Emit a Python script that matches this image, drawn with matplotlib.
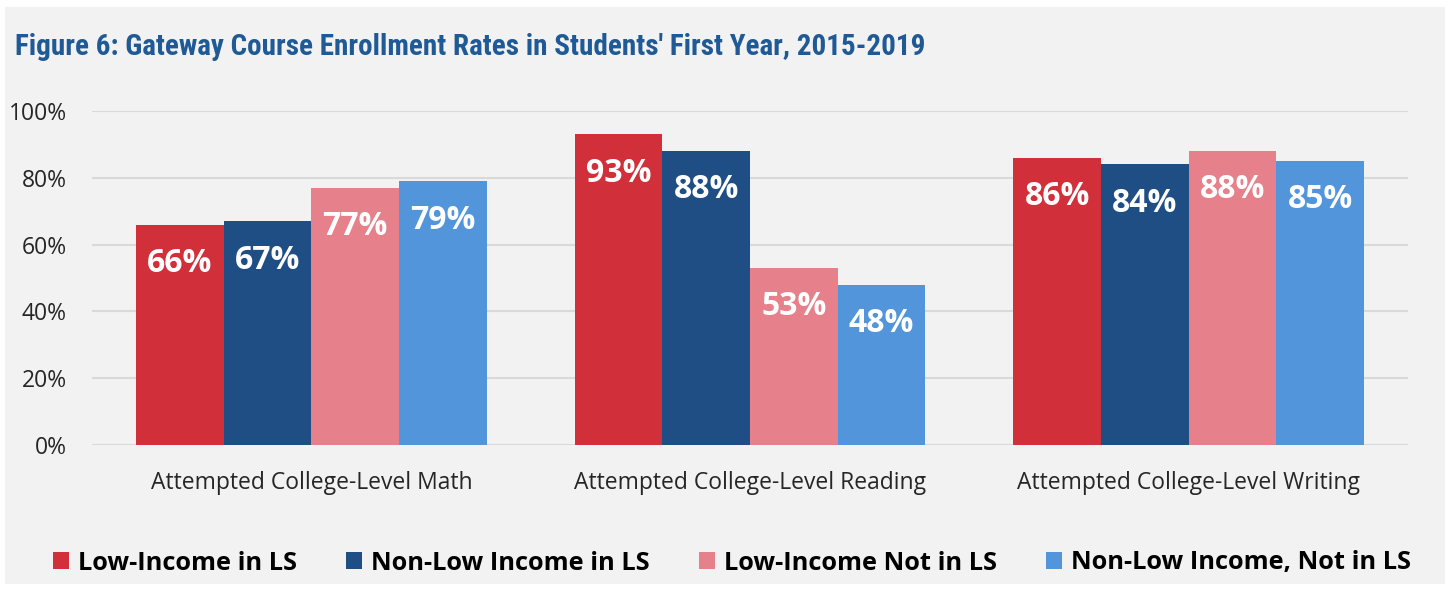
import matplotlib.pyplot as plt
from matplotlib.patches import Rectangle, Patch
from matplotlib import font_manager
import numpy as np

categories = ["Attempted College-Level Math",
              "Attempted College-Level Reading",
              "Attempted College-Level Writing"]
series = ["Low-Income in LS", "Non-Low Income in LS",
          "Low-Income Not in LS", "Non-Low Income, Not in LS"]
low_income_ls = [66, 93, 86]
non_low_ls = [67, 88, 84]
low_income_not_ls = [77, 53, 88]
non_low_not_ls = [79, 48, 85]
colors = ["#D12F3A", "#1F4E85", "#E6808A", "#5295DA"]

title = "Figure 6: Gateway Course Enrollment Rates in Students' First Year, 2015-2019"

# pick a narrow face for the title if one is installed
fonts = font_manager.fontManager.ttflist
names = {f.name for f in fonts}
title_kw = {"family": "Roboto", "fontsize": 19.5, "fontweight": "medium"}
for cand in ["Roboto Condensed", "Liberation Sans Narrow", "Open Sans Condensed"]:
    if cand in names:
        title_kw = {"family": cand, "fontsize": 21, "fontweight": "bold"}
        break
else:
    if any(f.name == "DejaVu Sans" and f.stretch == "condensed" for f in fonts):
        title_kw = {"family": "DejaVu Sans", "fontsize": 20, "fontstretch": "condensed"}

plt.rcParams['font.family'] = ['Open Sans', 'DejaVu Sans']

W, H = 1445, 602
fig = plt.figure(figsize=(W / 100, H / 100), dpi=100)
fig.patch.set_facecolor("white")
# grey panel behind everything
fig.patches.append(Rectangle((5 / W, 1 - 584 / H), 1 - 5 / W, (584 - 7) / H,
                             transform=fig.transFigure, facecolor="#F2F2F2",
                             edgecolor="none", zorder=-10))

ax = fig.add_axes([92 / W, 1 - 445 / H, (1408 - 92) / W, (445 - 111) / H])
ax.set_facecolor("none")

x = np.arange(len(categories))
width = 0.2
all_vals = [low_income_ls, non_low_ls, low_income_not_ls, non_low_not_ls]
for i, (vals, c) in enumerate(zip(all_vals, colors)):
    pos = x + (i - 1.5) * width
    ax.bar(pos, vals, width, color=c, zorder=3)
    for xp, v in zip(pos, vals):
        ax.annotate(f"{v}%", (xp, v), xytext=(0, -28), textcoords="offset points",
                    ha="center", va="center", color="white", fontsize=23,
                    fontweight="bold", zorder=4)

ax.set_xlim(-0.5, 2.5)
ax.set_ylim(0, 100)
ax.set_yticks(range(0, 101, 20))
ax.set_yticklabels([f"{t}%" for t in range(0, 101, 20)], fontsize=16.5, color="#262626")
ax.set_xticks(x)
ax.set_xticklabels(categories, fontsize=16.5, color="#262626")
ax.tick_params(axis="both", length=0)
ax.tick_params(axis="y", pad=18)
ax.tick_params(axis="x", pad=19)
ax.grid(axis="y", color="#D9D9D9", linewidth=1.5, zorder=0)
for s in ax.spines.values():
    s.set_visible(False)

fig.text(15 / W, 1 - 47 / H, title, color="#1F5A96", va="center", ha="left", **title_kw)

handles = [Patch(facecolor=c, edgecolor="none") for c in colors]
fig.legend(handles, series, loc="center", bbox_to_anchor=(732 / W, 1 - 563 / H),
           ncol=4, frameon=False, prop={"weight": "bold", "size": 18.3},
           handlelength=0.62, handleheight=0.62, handletextpad=0.35,
           columnspacing=1.95)

fig.savefig("out.png", dpi=100)
